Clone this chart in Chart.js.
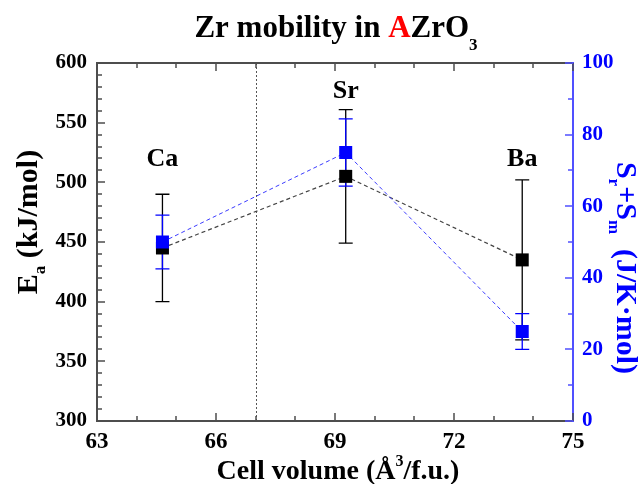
<!DOCTYPE html>
<html><head><meta charset="utf-8">
<script src="https://cdn.jsdelivr.net/npm/chart.js@4/dist/chart.umd.min.js"></script>
<style>html,body{margin:0;padding:0;background:#fff}</style>
</head><body>
<canvas id="c" width="640" height="484" style="display:block;width:640px;height:484px"></canvas>
<script>
// ---- data ----
const cations = ['Ca', 'Sr', 'Ba'];
const cellVolume = [64.65, 69.27, 73.72];          // Å^3 / f.u.
const activationEnergy = [445, 505, 435];          // kJ/mol
const activationEnergyErr = [45, 56, 67];
const entropySum = [50, 75, 25];                   // J/K mol
const entropySumErr = [7.5, 9.4, 5];
const labelEnergy = [514, 571, 514];               // where cation names sit (kJ/mol units)
const dividerVolume = 67;
const xTicks = [63, 66, 69, 72, 75];
const yLeftTicks = [300, 350, 400, 450, 500, 550, 600];
const yRightTicks = [0, 20, 40, 60, 80, 100];

const SERIF = '"Liberation Serif","Times New Roman",serif';
const BLUE = '#0000ff';
const AXIS_GREY = '#4d4d4d';
const AXIS_BLUE = '#5050ff';

function richText(ctx, segs, x, y, angle) {
  ctx.save();
  ctx.translate(x, y);
  ctx.rotate(angle);
  ctx.textAlign = 'left';
  ctx.textBaseline = 'alphabetic';
  let w = 0;
  for (const s of segs) { ctx.font = s.font; s.w = ctx.measureText(s.text).width; w += s.w; }
  let cx = -w / 2;
  for (const s of segs) {
    ctx.font = s.font; ctx.fillStyle = s.color;
    ctx.fillText(s.text, cx, s.dy || 0);
    cx += s.w;
  }
  ctx.restore();
}

const decor = {
  id: 'decor',
  beforeDatasetsDraw(chart) {
    const {ctx, chartArea: a, scales: {x, y, y2}} = chart;
    ctx.save();
    // vertical dotted divider
    ctx.strokeStyle = '#555';
    ctx.lineWidth = 1;
    ctx.setLineDash([2, 2]);
    const dx = Math.round(x.getPixelForValue(dividerVolume)) + 0.5;
    ctx.beginPath(); ctx.moveTo(dx, a.top); ctx.lineTo(dx, a.bottom); ctx.stroke();
    ctx.setLineDash([]);
    // error bars
    const bar = (scale, vals, errs, color) => {
      ctx.strokeStyle = color; ctx.lineWidth = 1.3;
      vals.forEach((v, i) => {
        const px = x.getPixelForValue(cellVolume[i]);
        const t = scale.getPixelForValue(v + errs[i]);
        const b = scale.getPixelForValue(v - errs[i]);
        ctx.beginPath();
        ctx.moveTo(px, t); ctx.lineTo(px, b);
        ctx.moveTo(px - 7, t); ctx.lineTo(px + 7, t);
        ctx.moveTo(px - 7, b); ctx.lineTo(px + 7, b);
        ctx.stroke();
      });
    };
    bar(y, activationEnergy, activationEnergyErr, '#000');
    bar(y2, entropySum, entropySumErr, BLUE);
    ctx.restore();
  },
  afterDraw(chart) {
    const {ctx, chartArea: a, scales: {x, y, y2}} = chart;
    ctx.save();
    // frame
    ctx.lineWidth = 2;
    ctx.strokeStyle = AXIS_GREY;
    ctx.beginPath();
    ctx.moveTo(a.right, a.top); ctx.lineTo(a.left, a.top); ctx.lineTo(a.left, a.bottom); ctx.lineTo(a.right, a.bottom);
    ctx.stroke();
    ctx.strokeStyle = AXIS_BLUE;
    ctx.beginPath(); ctx.moveTo(a.right, a.top - 1); ctx.lineTo(a.right, a.bottom + 1); ctx.stroke();
    // inward ticks
    ctx.lineWidth = 1.5;
    ctx.strokeStyle = AXIS_GREY;
    ctx.beginPath();
    for (let v = 63; v <= 75; v += 1) {
      const px = Math.round(x.getPixelForValue(v));
      const len = (v - 63) % 3 === 0 ? 8 : 5;
      ctx.moveTo(px, a.bottom); ctx.lineTo(px, a.bottom - len);
      ctx.moveTo(px, a.top); ctx.lineTo(px, a.top + len);
    }
    for (let v = 300; v <= 600; v += 10) {
      const py = Math.round(y.getPixelForValue(v));
      const len = v % 50 === 0 ? 8 : 5;
      ctx.moveTo(a.left, py); ctx.lineTo(a.left + len, py);
    }
    ctx.stroke();
    ctx.strokeStyle = AXIS_BLUE;
    ctx.beginPath();
    for (let v = 0; v <= 100; v += 10) {
      const py = Math.round(y2.getPixelForValue(v));
      const len = v % 20 === 0 ? 8 : 5;
      ctx.moveTo(a.right, py); ctx.lineTo(a.right - len, py);
    }
    ctx.stroke();

    // cation labels
    ctx.font = 'bold 26px ' + SERIF;
    ctx.fillStyle = '#000';
    ctx.textAlign = 'center';
    ctx.textBaseline = 'alphabetic';
    cations.forEach((c, i) => {
      ctx.fillText(c, x.getPixelForValue(cellVolume[i]), y.getPixelForValue(labelEnergy[i]));
    });
    ctx.restore();

    // chart title
    const tf = 'bold 31px ' + SERIF;
    richText(ctx, [
      {text: 'Zr mobility in ', font: tf, color: '#000'},
      {text: 'A', font: tf, color: '#ff0000'},
      {text: 'ZrO', font: tf, color: '#000'},
      {text: '3', font: 'bold 17px ' + SERIF, color: '#000', dy: 13}
    ], 336, 37, 0);
    // left axis title
    const lf = 'bold 30px ' + SERIF;
    richText(ctx, [
      {text: 'E', font: lf, color: '#000'},
      {text: 'a', font: 'bold 17px ' + SERIF, color: '#000', dy: 8},
      {text: ' (kJ/mol)', font: lf, color: '#000'}
    ], 37, 222, -Math.PI / 2);
    // right axis title
    const rf = 'bold 30px ' + SERIF;
    const rs = 'bold 17px ' + SERIF;
    richText(ctx, [
      {text: 'S', font: rf, color: BLUE},
      {text: 'r', font: rs, color: BLUE, dy: 8},
      {text: '+S', font: rf, color: BLUE},
      {text: 'm', font: rs, color: BLUE, dy: 8},
      {text: '  (J/K\u00B7mol)', font: rf, color: BLUE}
    ], 617, 268, Math.PI / 2);
    // x axis title
    const xf = 'bold 28px ' + SERIF;
    richText(ctx, [
      {text: 'Cell volume (\u00C5', font: xf, color: '#000'},
      {text: '3', font: 'bold 16px ' + SERIF, color: '#000', dy: -13},
      {text: '/f.u.)', font: xf, color: '#000'}
    ], 338, 479, 0);
  }
};

const pts = (vals) => vals.map((v, i) => ({x: cellVolume[i], y: v}));

new Chart(document.getElementById('c'), {
  type: 'line',
  data: {
    datasets: [
      {
        label: 'S', data: pts(entropySum), yAxisID: 'y2',
        borderColor: '#3a3aff', borderWidth: 1, borderDash: [4, 3],
        pointStyle: 'rect', pointRadius: 9.2, pointHoverRadius: 9.2,
        pointBackgroundColor: BLUE, pointBorderColor: BLUE, pointBorderWidth: 0,
        tension: 0, fill: false
      },
      {
        label: 'E', data: pts(activationEnergy), yAxisID: 'y',
        borderColor: '#444', borderWidth: 1.2, borderDash: [4, 3],
        pointStyle: 'rect', pointRadius: 9.2, pointHoverRadius: 9.2,
        pointBackgroundColor: '#000', pointBorderColor: '#000', pointBorderWidth: 0,
        tension: 0, fill: false
      }
    ]
  },
  options: {
    responsive: false,
    animation: false,
    devicePixelRatio: 1,
    layout: {padding: {top: 63, left: 0, right: 0, bottom: 0}},
    plugins: {legend: {display: false}, title: {display: false}, tooltip: {enabled: false}},
    events: [],
    scales: {
      x: {
        type: 'linear', min: 63, max: 75,
        afterBuildTicks: s => { s.ticks = xTicks.map(v => ({value: v})); },
        afterFit: s => { s.height = 63; },
        grid: {display: false, drawTicks: false, tickLength: 0},
        border: {display: false},
        ticks: {font: {family: SERIF, size: 23, weight: 'bold'}, color: '#000', padding: 7, maxRotation: 0, autoSkip: false}
      },
      y: {
        type: 'linear', position: 'left', min: 300, max: 600,
        afterBuildTicks: s => { s.ticks = yLeftTicks.map(v => ({value: v})); },
        afterFit: s => { s.width = 97; },
        grid: {display: false, drawTicks: false, tickLength: 0},
        border: {display: false},
        ticks: {font: {family: SERIF, size: 21, weight: 'bold'}, color: '#000', padding: 10, autoSkip: false}
      },
      y2: {
        type: 'linear', position: 'right', min: 0, max: 100,
        afterBuildTicks: s => { s.ticks = yRightTicks.map(v => ({value: v})); },
        afterFit: s => { s.width = 67; },
        grid: {display: false, drawTicks: false, tickLength: 0},
        border: {display: false},
        ticks: {font: {family: SERIF, size: 21, weight: 'bold'}, color: BLUE, padding: 9, autoSkip: false}
      }
    }
  },
  plugins: [decor]
});
</script>
</body></html>
